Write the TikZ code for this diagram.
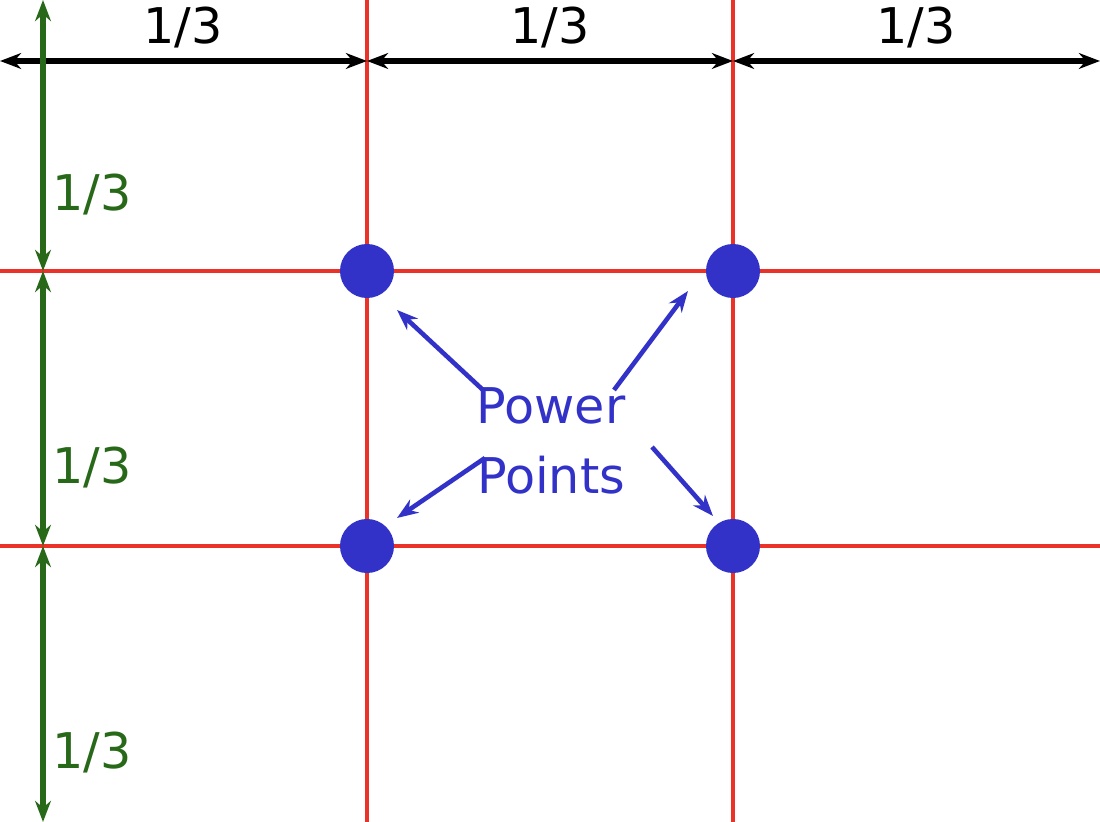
\documentclass[tikz,border=0pt]{standalone}
\usepackage{fontspec}
\setmainfont{DejaVu Sans}
\usetikzlibrary{arrows.meta}
\definecolor{gridred}{RGB}{235,50,40}
\definecolor{ptblue}{RGB}{50,50,200}
\definecolor{dimgreen}{RGB}{40,105,25}
\tikzset{
  gridline/.style={gridred,line width=1.3pt},
  dimblack/.style={black,line width=1.5pt,{Stealth[length=6pt]}-{Stealth[length=6pt]}},
  dimgr/.style={dimgreen,line width=1.8pt,{Stealth[length=6pt]}-{Stealth[length=6pt]}},
  lbl/.style={font=\fontsize{14}{16}\selectfont},
  pp/.style={circle,fill=ptblue,minimum size=0.54cm,inner sep=0pt},
  pparrow/.style={ptblue,line width=1.3pt,-{Stealth[length=6pt]}}
}
\begin{document}
\begin{tikzpicture}[x=0.01cm,y=-0.01cm]
\useasboundingbox[fill=white] (0,0) rectangle (1100,822);
\draw[gridline] (367,0) -- (367,822);
\draw[gridline] (733,0) -- (733,822);
\draw[gridline] (0,271) -- (1100,271);
\draw[gridline] (0,546) -- (1100,546);
\coordinate (t0) at (0,61); \coordinate (t1) at (367,61);
\coordinate (t2) at (733,61); \coordinate (t3) at (1100,61);
\draw[dimblack] (t0) -- (t1);
\draw[dimblack] (t1) -- (t2);
\draw[dimblack] (t2) -- (t3);
\node[lbl] (h1) at (183,28) {1/3};
\node[lbl] (h2) at (550,28) {1/3};
\node[lbl] (h3) at (916,28) {1/3};
\coordinate (v0) at (43,0); \coordinate (v1) at (43,271);
\coordinate (v2) at (43,546); \coordinate (v3) at (43,822);
\draw[dimgr] (v0) -- (v1);
\draw[dimgr] (v1) -- (v2);
\draw[dimgr] (v2) -- (v3);
\node[lbl,dimgreen] (g1) at (92,195) {1/3};
\node[lbl,dimgreen] (g2) at (92,468) {1/3};
\node[lbl,dimgreen] (g3) at (92,753) {1/3};
\node[pp] (p1) at (367,271) {};
\node[pp] (p2) at (733,271) {};
\node[pp] (p3) at (367,546) {};
\node[pp] (p4) at (733,546) {};
\node[lbl,ptblue,align=center,font=\fontsize{14}{20}\selectfont] (txt) at (551,441) {Power\\Points};
\coordinate (a1) at (483,390); \coordinate (a2) at (614,390);
\coordinate (a3) at (485,458); \coordinate (a4) at (652,447);
\coordinate (e1) at (397,310); \coordinate (e2) at (688,291);
\coordinate (e3) at (397,518); \coordinate (e4) at (713,516);
\draw[pparrow] (a1) -- (e1);
\draw[pparrow] (a2) -- (e2);
\draw[pparrow] (a3) -- (e3);
\draw[pparrow] (a4) -- (e4);
\end{tikzpicture}
\end{document}
